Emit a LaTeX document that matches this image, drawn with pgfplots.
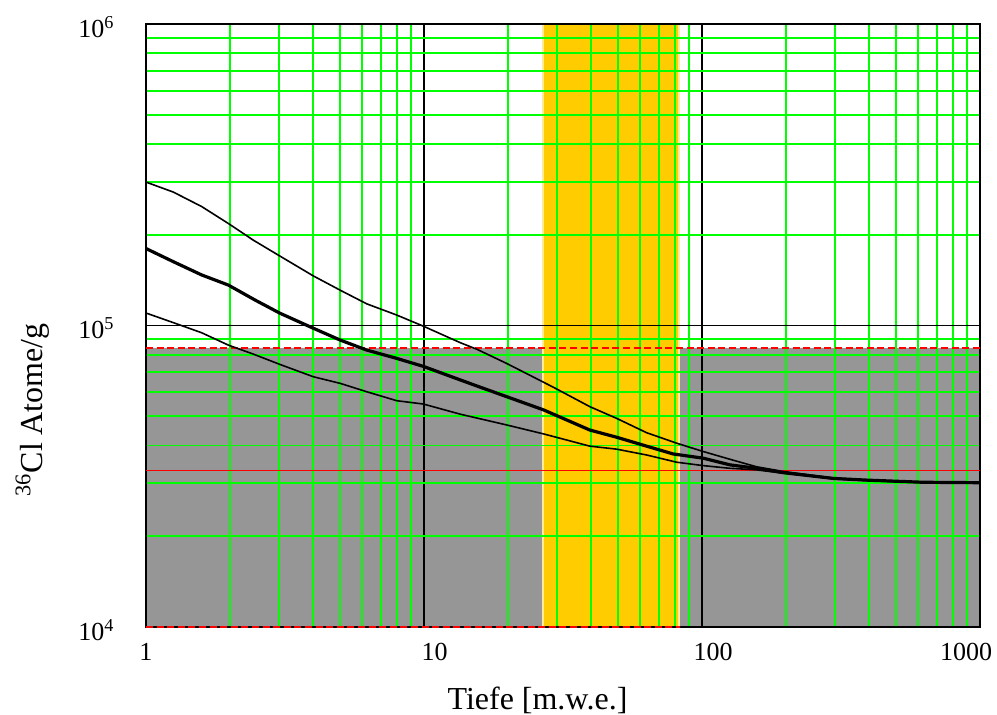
\documentclass[border=0pt]{standalone}
\usepackage{fontspec}
\setmainfont{Liberation Serif}
\usepackage{pgfplots}
\pgfplotsset{compat=1.18}
\definecolor{mygreen}{RGB}{0,255,0}
\definecolor{mygray}{RGB}{150,150,150}
\definecolor{myyellow}{RGB}{255,204,0}
\begin{document}
\begin{tikzpicture}
\begin{axis}[
 set layers,
 scale only axis, width=417pt, height=301.5pt,
 xmode=log, ymode=log, xmin=1, xmax=1000, ymin=1e4, ymax=1e6,
 xtick={1,10,100,1000},
 xticklabels={1,{10\hspace*{-10.5pt}},{100\hspace*{-11pt}},{\hspace*{-14pt}1000}},
 ytick={1e4,1e5,1e6},
 yticklabels={10\textsuperscript{4},10\textsuperscript{5},10\textsuperscript{6}},
 grid=both,
 minor grid style={draw=mygreen, line width=0.9pt},
 major grid style={draw=black, line width=0.7pt},
 major tick length=0pt, minor tick length=0pt,
 axis line style={line width=1pt},
 tick label style={font=\fontsize{13}{15}\selectfont},
 xticklabel style={yshift=-4.7pt},
 yticklabel style={xshift=-12.2pt, yshift=-1.5pt},
 label style={font=\fontsize{16}{19}\selectfont},
 xlabel={Tiefe [m.w.e.]},
 ylabel={\textsuperscript{36}Cl Atome/g},
 xlabel style={at={(axis description cs:0.4694,-0.1376)}, anchor=base},
 ylabel style={at={(axis description cs:-0.1235,0.36)}, anchor=base},
 clip=false,
]
% shaded regions
\addplot[on layer=axis background, fill=mygray, draw=none]
 coordinates {(1,1e4) (1000,1e4) (1000,8.42e4) (1,8.42e4)} -- cycle;
\addplot[on layer=axis background, fill=myyellow, draw=white!60!myyellow, line width=0.6pt]
 coordinates {(26.8,1e4) (82.6,1e4) (82.6,1e6) (26.8,1e6)} -- cycle;
% red reference lines
\addplot[red, line width=0.7pt, dash pattern=on 3.5pt off 1.8pt]
 coordinates {(1,8.42e4) (1000,8.42e4)};
\addplot[red, line width=0.7pt, dash pattern=on 3.5pt off 1.8pt]
 coordinates {(1,1e4) (83,1e4)};
\addplot[red, line width=0.7pt]
 coordinates {(1,3.30e4) (1000,3.30e4)};
% upper curve
\addplot[black, line width=0.8pt] coordinates {
 (1,2.99e5) (1.254,2.77e5) (1.586,2.48e5) (1.977,2.18e5) (2.43,1.92e5)
 (3.03,1.70e5) (4.0,1.46e5) (4.99,1.31e5) (6.22,1.18e5) (7.98,1.083e5)
 (9.94,9.95e4) (13.5,8.77e4) (15.5,8.34e4) (19.8,7.49e4) (29.2,6.24e4)
 (39.5,5.38e4) (49.3,4.92e4) (63.2,4.41e4) (81.1,4.07e4) (101,3.82e4)
 (126,3.60e4) (157,3.40e4) (196,3.28e4) (297,3.12e4) (391,3.07e4)
 (625,3.02e4) (1000,3.01e4)};
% lower curve
\addplot[black, line width=0.8pt] coordinates {
 (1,1.10e5) (1.254,1.022e5) (1.586,9.46e4) (1.977,8.61e4) (2.43,8.04e4)
 (3.03,7.43e4) (4.0,6.76e4) (4.99,6.43e4) (6.22,6.03e4) (7.98,5.63e4)
 (9.94,5.49e4) (13.5,5.08e4) (19.8,4.68e4) (26.9,4.37e4) (39.5,3.98e4)
 (49.3,3.89e4) (63.2,3.72e4) (81.1,3.52e4) (101,3.43e4) (126,3.36e4)
 (157,3.32e4) (196,3.24e4) (297,3.10e4) (391,3.06e4) (625,3.01e4)
 (1000,3.00e4)};
% middle (thick) curve
\addplot[black, line width=1.6pt] coordinates {
 (1,1.80e5) (1.254,1.628e5) (1.586,1.471e5) (1.977,1.362e5) (2.466,1.215e5)
 (3.034,1.098e5) (4.0,9.79e4) (4.99,8.95e4) (6.22,8.29e4) (7.98,7.78e4)
 (9.94,7.32e4) (13.5,6.60e4) (15.5,6.30e4) (19.8,5.81e4) (26.9,5.25e4)
 (39.5,4.50e4) (49.3,4.26e4) (63.2,3.98e4) (78.7,3.75e4) (101,3.63e4)
 (126,3.45e4) (157,3.36e4) (196,3.25e4) (297,3.11e4) (391,3.07e4)
 (625,3.02e4) (1000,3.01e4)};
\end{axis}
\pgfresetboundingbox
\useasboundingbox (-73pt,-44pt) rectangle (425.5pt,313.5pt);
\end{tikzpicture}
\end{document}
